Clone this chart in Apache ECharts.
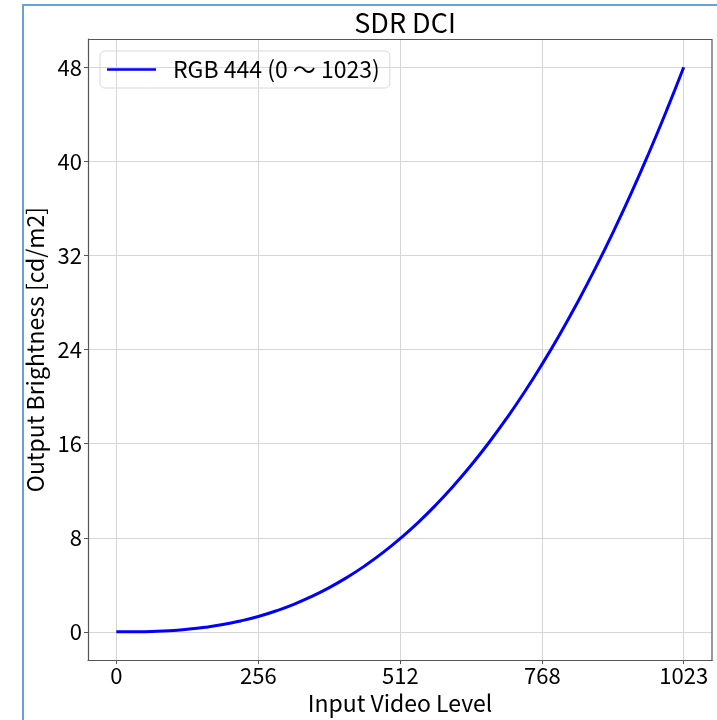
<!DOCTYPE html>
<html>
<head>
<meta charset="utf-8">
<script src="https://cdn.jsdelivr.net/npm/echarts@6/dist/echarts.min.js"></script>
<style>
  html, body { margin: 0; padding: 0; background: #fff; }
  #chart_1 { width: 717px; height: 720px; }
</style>
</head>
<body>
<div id="chart_1"></div>
<script>
// 入力レベル (0 ~ 1023) と 出力輝度 (cd/m2)
var levels = [0, 32, 64, 96, 128, 160, 192, 224, 256, 288, 320, 352, 384, 416, 448, 480, 512,
              544, 576, 608, 640, 672, 704, 736, 768, 800, 832, 864, 896, 928, 960, 992, 1023];
var brightness = [0, 0.01, 0.04, 0.10, 0.22, 0.39, 0.62, 0.93, 1.31, 1.78, 2.34, 3.00, 3.76, 4.63, 5.61, 6.71, 7.94,
                  9.29, 10.78, 12.41, 14.18, 16.10, 18.17, 20.39, 22.78, 25.33, 28.05, 30.94, 34.01, 37.25, 40.69, 44.31, 48];
var xTicks = [0, 256, 512, 768, 1023];
var yTicks = [0, 8, 16, 24, 32, 40, 48];

var FONT = '"Noto Sans CJK JP", "Noto Sans", sans-serif';

chart();

function chart() {
  var myChart = echarts.init(document.getElementById('chart_1'));

  var data = [];
  for (var i = 0; i < levels.length; i++) {
    data.push([levels[i], brightness[i]]);
  }

  var option = {
    backgroundColor: '#fff',
    animation: false,
    title: {
      text: 'SDR DCI',
      left: 400,
      top: 4,
      textAlign: 'center',
      textStyle: { fontFamily: FONT, fontSize: 27, fontWeight: 'normal', color: '#000' }
    },
    legend: {
      left: 100,
      top: 51,
      padding: [7, 10, 7, 7],
      icon: 'rect',
      itemWidth: 49,
      itemHeight: 2.6,
      borderColor: '#d8d8d8',
      borderWidth: 1,
      borderRadius: 5,
      textStyle: { fontFamily: FONT, fontSize: 23, color: '#000', padding: [0, 0, 0, 12] },
      data: ['RGB 444 (0 〜 1023)']
    },
    grid: { left: 88, right: 5, top: 39, bottom: 59 },
    xAxis: {
      type: 'value',
      min: -51,
      max: 1074,
      name: 'Input Video Level',
      nameLocation: 'middle',
      nameGap: 28,
      nameTextStyle: { fontFamily: FONT, fontSize: 23, color: '#000' },
      axisLine: { onZero: false, lineStyle: { color: '#555', width: 1.2 } },
      axisTick: { show: true, customValues: xTicks, length: 4, lineStyle: { color: '#555' } },
      axisLabel: {
        customValues: xTicks, fontFamily: FONT, fontSize: 22, color: '#000', margin: 5,
        formatter: function (v) { return String(v); }
      },
      splitLine: { show: true, lineStyle: { color: '#d6d6d6', width: 1 } }
    },
    yAxis: {
      type: 'value',
      min: -2.4,
      max: 50.4,
      name: 'Output Brightness [cd/m2]',
      nameLocation: 'middle',
      nameGap: 35,
      nameRotate: 90,
      nameTextStyle: { fontFamily: FONT, fontSize: 23, color: '#000' },
      axisLine: { show: true, onZero: false, lineStyle: { color: '#555', width: 1.2 } },
      axisTick: { show: true, customValues: yTicks, length: 4, lineStyle: { color: '#555' } },
      axisLabel: { customValues: yTicks, fontFamily: FONT, fontSize: 22, color: '#000', margin: 6 },
      splitLine: { show: true, lineStyle: { color: '#d6d6d6', width: 1 } }
    },
    graphic: [
      // 右と上の枠線
      { type: 'line', shape: { x1: 88, y1: 39.5, x2: 712, y2: 39.5 }, style: { stroke: '#555', lineWidth: 1.2 }, z: 10 },
      { type: 'line', shape: { x1: 712, y1: 39, x2: 712, y2: 661 }, style: { stroke: '#555', lineWidth: 1.2 }, z: 10 },
      // スクリーンショットの青い枠
      { type: 'line', shape: { x1: 23, y1: 5, x2: 23, y2: 720 }, style: { stroke: '#6a9fd8', lineWidth: 2 } },
      { type: 'line', shape: { x1: 22, y1: 5, x2: 717, y2: 5 }, style: { stroke: '#6a9fd8', lineWidth: 2 } }
    ],
    series: [
      {
        name: 'RGB 444 (0 〜 1023)',
        type: 'line',
        data: data,
        smooth: true,
        symbol: 'none',
        lineStyle: { color: '#0000ff', width: 3 },
        itemStyle: { color: '#0000ff' }
      }
    ]
  };

  myChart.setOption(option);
  window.addEventListener('resize', function () {
    myChart.resize();
  });
}
</script>
</body>
</html>
